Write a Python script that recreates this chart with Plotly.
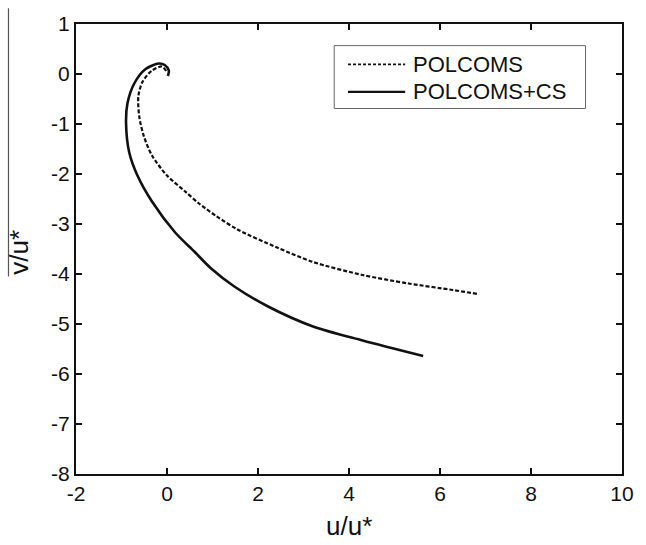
import plotly.graph_objects as go

# POLCOMS (dashed)
polcoms_u = [-0.02, -0.11, -0.33, -0.54, -0.63, -0.61, -0.51, -0.33, 0.00, 0.40, 0.69, 1.08, 1.55, 2.42, 3.21, 4.30, 5.31, 6.28, 6.84]
polcoms_v = [0.06, 0.15, 0.07, -0.16, -0.45, -0.85, -1.24, -1.63, -2.03, -2.35, -2.58, -2.84, -3.11, -3.47, -3.76, -4.02, -4.19, -4.32, -4.40]

# POLCOMS+CS (solid)
cs_u = [0.02, 0.04, -0.05, -0.18, -0.47, -0.72, -0.87, -0.90, -0.83, -0.65, -0.33, 0.18, 0.60, 0.97, 1.48, 2.20, 3.21, 4.30, 5.63]
cs_v = [-0.04, 0.07, 0.18, 0.21, 0.10, -0.19, -0.59, -0.98, -1.57, -2.03, -2.55, -3.17, -3.55, -3.89, -4.25, -4.64, -5.05, -5.33, -5.64]

x_ticks = [-2, 0, 2, 4, 6, 8, 10]
y_ticks = [1, 0, -1, -2, -3, -4, -5, -6, -7, -8]
series_names = ["POLCOMS", "POLCOMS+CS"]

FONT = "Liberation Sans, Arial, sans-serif"
INK = "#111111"

fig = go.Figure()
fig.add_trace(go.Scatter(x=polcoms_u, y=polcoms_v, mode="lines", name=series_names[0],
                         line=dict(color=INK, width=2.2, dash="4px,2px", shape="spline", smoothing=0.8),
                         showlegend=False))
fig.add_trace(go.Scatter(x=cs_u, y=cs_v, mode="lines", name=series_names[1],
                         line=dict(color=INK, width=2.6, shape="spline", smoothing=0.8),
                         showlegend=False))

L, R, T, B = 76, 16, 16, 71
W, H = 646, 545
pw, ph = W - L - R, H - T - B

def px_x(p):
    return (p - L) / pw

def px_y(p):
    return (H - B - p) / ph

axis_common = dict(showgrid=False, zeroline=False, showline=True, linecolor=INK, linewidth=2,
                   mirror="allticks", ticks="inside", ticklen=6, tickwidth=1.5, tickcolor=INK,
                   tickfont=dict(family=FONT, size=21, color=INK))

fig.update_xaxes(range=[-2, 10], tickvals=x_ticks, ticktext=[str(v) for v in x_ticks], **axis_common)
fig.update_yaxes(range=[-8, 1], tickvals=y_ticks, ticktext=[str(v) for v in y_ticks], **axis_common)

shapes = [
    # legend box
    dict(type="rect", xref="paper", yref="paper", x0=px_x(338), x1=px_x(593), y0=px_y(102), y1=px_y(38),
         line=dict(color="#666666", width=1), fillcolor="white", layer="above"),
    dict(type="line", xref="paper", yref="paper", x0=px_x(352), x1=px_x(410), y0=px_y(57), y1=px_y(57),
         line=dict(color=INK, width=1.8, dash="3px,2px")),
    dict(type="line", xref="paper", yref="paper", x0=px_x(352), x1=px_x(410), y0=px_y(85), y1=px_y(85),
         line=dict(color=INK, width=2.2)),
    # overline of y-axis title
    dict(type="line", xref="paper", yref="paper", x0=px_x(7.5), x1=px_x(7.5), y0=px_y(273), y1=px_y(0),
         line=dict(color="#555555", width=1.2)),
]

annotations = [
    dict(text=series_names[0], xref="paper", yref="paper", x=px_x(416), y=px_y(57), xanchor="left",
         yanchor="middle", showarrow=False, font=dict(family=FONT, size=22, color=INK)),
    dict(text=series_names[1], xref="paper", yref="paper", x=px_x(416), y=px_y(85), xanchor="left",
         yanchor="middle", showarrow=False, font=dict(family=FONT, size=22, color=INK)),
    dict(text="u/u*", xref="paper", yref="paper", x=px_x(353), y=px_y(527), xanchor="center",
         yanchor="middle", showarrow=False, font=dict(family=FONT, size=26, color=INK)),
    dict(text="v/u*", xref="paper", yref="paper", x=px_x(18), y=px_y(248), xanchor="center",
         yanchor="middle", textangle=-90, showarrow=False, font=dict(family=FONT, size=26, color=INK)),
]

fig.update_layout(width=W, height=H, margin=dict(l=L, r=R, t=T, b=B),
                  paper_bgcolor="white", plot_bgcolor="white",
                  shapes=shapes, annotations=annotations, showlegend=False)

fig.write_html("out.html")
